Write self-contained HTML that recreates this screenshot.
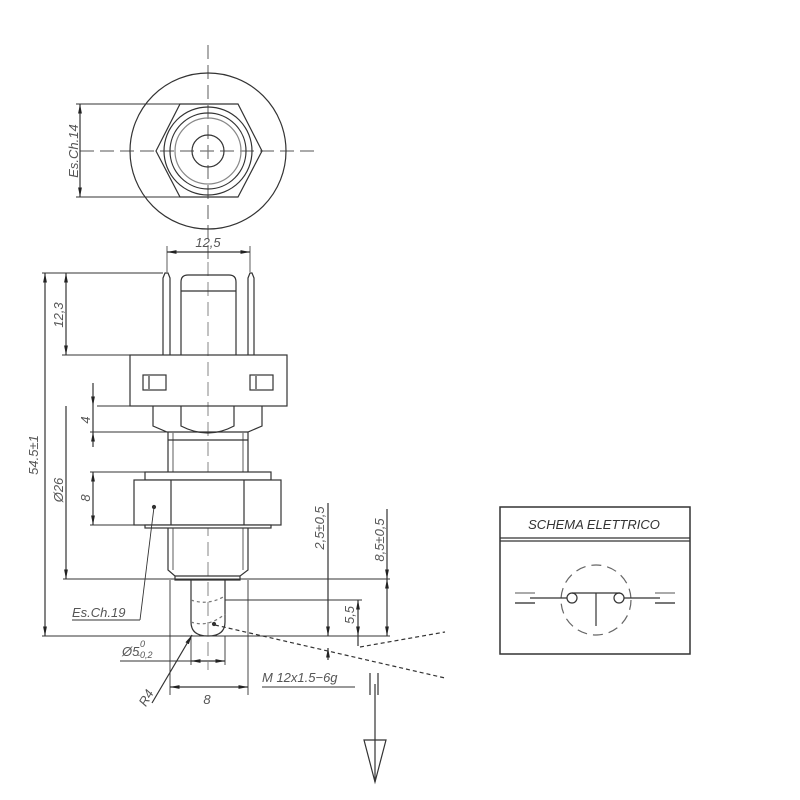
<!DOCTYPE html>
<html><head><style>html,body{margin:0;padding:0;background:#fff;}svg{display:block}</style></head>
<body>
<svg width="800" height="800" viewBox="0 0 800 800" xmlns="http://www.w3.org/2000/svg" font-family="Liberation Sans, sans-serif" font-style="italic" fill="none" stroke="#333" stroke-width="1.2">
<defs>
<marker id="a" viewBox="0 0 10 10" refX="10" refY="5" markerWidth="8" markerHeight="8" orient="auto-start-reverse"><path d="M0,3 L10,5 L0,7z" fill="#222" stroke="none"/></marker>
</defs>
<!-- top view -->
<g stroke-dasharray="14,6" stroke="#777">
<line x1="80" y1="151" x2="320" y2="151"/>
<line x1="208" y1="45" x2="208" y2="262"/>
</g>
<circle cx="208" cy="151" r="78"/>
<polygon points="156,151 180,104 238,104 262,151 238,197 180,197"/>
<circle cx="208" cy="151" r="44"/>
<circle cx="208" cy="151" r="38"/>
<circle cx="208" cy="151" r="33" stroke="#888"/>
<circle cx="208" cy="151" r="16"/>
<line x1="76" y1="104" x2="180" y2="104" stroke-width="1"/>
<line x1="76" y1="197" x2="180" y2="197" stroke-width="1"/>
<line x1="80" y1="104" x2="80" y2="197" marker-start="url(#a)" marker-end="url(#a)"/>
<text transform="translate(78,151) rotate(-90)" text-anchor="middle" font-size="13" fill="#555" stroke="none">Es.Ch.14</text>
<!-- 12.5 -->
<line x1="167" y1="252" x2="250" y2="252" marker-start="url(#a)" marker-end="url(#a)"/>
<line x1="167" y1="246" x2="167" y2="272" stroke-width="0.8"/>
<line x1="250" y1="246" x2="250" y2="272" stroke-width="0.8"/>
<text x="208" y="247" text-anchor="middle" font-size="13" fill="#555" stroke="none">12,5</text>
<!-- side view -->
<line x1="208" y1="262" x2="208" y2="670" stroke-dasharray="14,6" stroke="#999"/>
<path d="M163,355 V278 L165,273 L168,273 L170,278 V355"/>
<path d="M248,355 V278 L250,273 L252,273 L254,278 V355"/>
<path d="M181,355 V282 Q181,275 188,275 H229 Q236,275 236,282 V355"/>
<line x1="181" y1="291" x2="236" y2="291"/>
<rect x="130" y="355" width="157" height="51"/>
<rect x="143" y="375" width="23" height="15"/><line x1="149" y1="376" x2="149" y2="389"/>
<rect x="250" y="375" width="23" height="15"/><line x1="256" y1="376" x2="256" y2="389"/>
<path d="M153,406 V426 L167,432 H248 L262,426 V406"/>
<path d="M181,406 V426 Q208,440 234,426 V406"/>
<path d="M168,432 V570 L175,576 V580 H240 V576 L248,570 V432"/>
<line x1="173" y1="432" x2="173" y2="570" stroke="#777"/>
<line x1="243" y1="432" x2="243" y2="570" stroke="#777"/>
<line x1="168" y1="440" x2="248" y2="440"/>
<line x1="175" y1="576" x2="240" y2="576"/>
<rect x="145" y="472" width="126" height="8" fill="#fff"/>
<rect x="134" y="480" width="147" height="45" fill="#fff"/>
<rect x="145" y="525" width="126" height="3" fill="#fff"/>
<line x1="171" y1="480" x2="171" y2="525"/><line x1="244" y1="480" x2="244" y2="525"/>
<path d="M191,580 V622 Q191,636 208,636 Q225,636 225,622 V580"/>
<path d="M191,600 Q208,606 225,596" stroke-dasharray="3,3" stroke="#777"/>
<path d="M191,622 Q208,628 225,614" stroke-dasharray="3,3" stroke="#777"/>
<circle cx="154" cy="507" r="1.5" fill="#333"/>
<circle cx="214" cy="624" r="1.5" fill="#333"/>
<!-- horizontal reference lines -->
<g stroke-width="0.9">
<line x1="42" y1="273" x2="163" y2="273"/>
<line x1="62" y1="355" x2="130" y2="355"/>
<line x1="97" y1="406" x2="153" y2="406"/>
<line x1="90" y1="432" x2="168" y2="432"/>
<line x1="90" y1="472" x2="145" y2="472"/>
<line x1="90" y1="525" x2="145" y2="525"/>
<line x1="63" y1="579" x2="390" y2="579"/>
<line x1="42" y1="636" x2="390" y2="636"/>
<line x1="225" y1="600" x2="362" y2="600"/>
<line x1="170" y1="580" x2="170" y2="695"/>
<line x1="248" y1="580" x2="248" y2="695"/>
<line x1="191" y1="636" x2="191" y2="665"/>
<line x1="225" y1="636" x2="225" y2="665"/>
</g>
<line x1="45" y1="273" x2="45" y2="636" marker-start="url(#a)" marker-end="url(#a)"/>
<line x1="66" y1="273" x2="66" y2="355" marker-start="url(#a)" marker-end="url(#a)"/>
<line x1="66" y1="406" x2="66" y2="579" marker-end="url(#a)"/>
<line x1="93" y1="383" x2="93" y2="406" marker-end="url(#a)"/>
<line x1="93" y1="406" x2="93" y2="432"/>
<line x1="93" y1="432" x2="93" y2="447" marker-start="url(#a)"/>
<line x1="93" y1="472" x2="93" y2="525" marker-start="url(#a)" marker-end="url(#a)"/>
<line x1="328" y1="503" x2="328" y2="636" marker-end="url(#a)"/>
<line x1="328" y1="648" x2="328" y2="660" marker-start="url(#a)"/>
<line x1="387" y1="509" x2="387" y2="579" marker-end="url(#a)"/>
<line x1="387" y1="579" x2="387" y2="636" marker-start="url(#a)" marker-end="url(#a)"/>
<line x1="358" y1="600" x2="358" y2="636" marker-start="url(#a)" marker-end="url(#a)"/>
<line x1="358" y1="636" x2="358" y2="646"/>
<g fill="#555" stroke="none" font-size="13">
<text transform="translate(38,455) rotate(-90)" text-anchor="middle">54.5±1</text>
<text transform="translate(63,315) rotate(-90)" text-anchor="middle">12,3</text>
<text transform="translate(63,490) rotate(-90)" text-anchor="middle">Ø26</text>
<text transform="translate(90,420) rotate(-90)" text-anchor="middle">4</text>
<text transform="translate(90,498) rotate(-90)" text-anchor="middle">8</text>
<text transform="translate(324,528) rotate(-90)" text-anchor="middle">2,5±0,5</text>
<text transform="translate(384,540) rotate(-90)" text-anchor="middle">8,5±0,5</text>
<text transform="translate(354,615) rotate(-90)" text-anchor="middle">5,5</text>
<text x="72" y="617">Es.Ch.19</text>
<text x="122" y="656">Ø5</text><text x="140" y="647" font-size="9">0</text><text x="137" y="658" font-size="9">-0,2</text>
<text x="207" y="704" text-anchor="middle">8</text>
<text x="262" y="682">M 12x1.5−6g</text>
<text transform="translate(150,700) rotate(-60)" text-anchor="middle">R4</text>
</g>
<line x1="72" y1="620" x2="140" y2="620" stroke-width="0.9"/>
<line x1="140" y1="620" x2="154" y2="507" stroke-width="0.9"/>
<line x1="120" y1="661" x2="191" y2="661" stroke-width="0.9"/>
<line x1="191" y1="661" x2="225" y2="661" marker-start="url(#a)" marker-end="url(#a)"/>
<line x1="170" y1="687" x2="248" y2="687" marker-start="url(#a)" marker-end="url(#a)"/>
<line x1="262" y1="687" x2="355" y2="687" stroke-width="0.9"/>
<line x1="152" y1="703" x2="192" y2="635" marker-end="url(#a)"/>
<line x1="215" y1="625" x2="445" y2="678" stroke-dasharray="4,3"/>
<line x1="360" y1="647" x2="445" y2="632" stroke-dasharray="4,3"/>
<!-- ground -->
<line x1="370" y1="673" x2="370" y2="695"/>
<line x1="378" y1="673" x2="378" y2="695"/>
<line x1="375" y1="684" x2="375" y2="782"/>
<polygon points="364,740 386,740 375,782"/>
<!-- schema -->
<rect x="500" y="507" width="190" height="147" stroke-width="1.5"/>
<line x1="500" y1="538" x2="690" y2="538"/>
<line x1="500" y1="541" x2="690" y2="541"/>
<text x="594" y="529" text-anchor="middle" font-size="13" fill="#333" stroke="none">SCHEMA  ELETTRICO</text>
<circle cx="596" cy="600" r="35" stroke-dasharray="10,6" stroke="#666"/>
<line x1="530" y1="598" x2="567" y2="598"/>
<line x1="624" y1="598" x2="660" y2="598"/>
<circle cx="572" cy="598" r="5"/><circle cx="619" cy="598" r="5"/>
<line x1="572" y1="593" x2="620" y2="593"/>
<line x1="596" y1="593" x2="596" y2="626"/>
<line x1="515" y1="593" x2="535" y2="593" stroke="#777"/><line x1="515" y1="603" x2="535" y2="603" stroke="#777" stroke-width="2"/>
<line x1="655" y1="593" x2="675" y2="593" stroke="#777"/><line x1="655" y1="603" x2="675" y2="603" stroke="#777" stroke-width="2"/>
</svg>
</body></html>
